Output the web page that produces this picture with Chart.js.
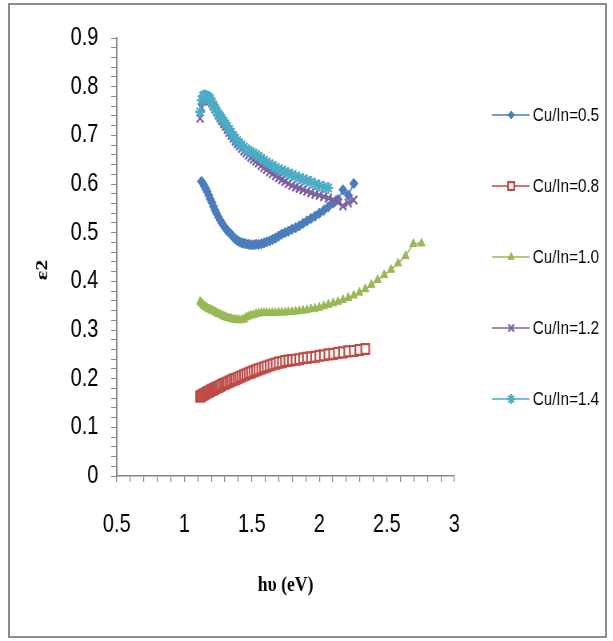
<!DOCTYPE html>
<html><head><meta charset="utf-8">
<script src="https://cdn.jsdelivr.net/npm/chart.js@4.4.0/dist/chart.umd.min.js"></script>
<style>
html,body{margin:0;padding:0;background:#fff;overflow:hidden;}
#outer{position:relative;width:613px;height:641px;overflow:hidden;}
#frame{position:absolute;left:8px;top:3px;width:599px;height:635px;border:2px solid #8c8c8c;box-sizing:border-box;}
#squeeze{position:absolute;left:0;top:0;width:766px;height:641px;transform:scaleX(0.8);transform-origin:0 0;}
canvas{display:block;}
</style></head><body>
<div id="outer"><div id="frame"></div><div id="squeeze"><canvas id="c" width="766" height="641"></canvas></div></div>
<script>
// photon energy hν (eV), shared x values
const energy = [1.117,1.127,1.138,1.148,1.159,1.170,1.181,1.192,1.204,1.216,
1.228,1.240,1.253,1.265,1.278,1.292,1.305,1.319,1.333,1.348,
1.363,1.378,1.393,1.409,1.425,1.442,1.459,1.476,1.494,1.512,
1.531,1.550,1.570,1.590,1.610,1.632,1.653,1.676,1.699,1.722,
1.746,1.771,1.797,1.824,1.851,1.879,1.908,1.938,1.968,2.000,
2.033,2.067,2.102,2.138,2.175,2.214,2.255,2.296,2.340,2.385,
2.431,2.480,2.531,2.583,2.638,2.696,2.756];

const seriesNames = ['Cu/In=0.5','Cu/In=0.8','Cu/In=1.0','Cu/In=1.2','Cu/In=1.4'];

const eps05 = [null,0.605,0.601,0.596,0.590,0.584,0.577,0.569,0.562,0.554,0.546,
0.539,0.532,0.526,0.520,0.514,0.509,0.504,0.500,0.496,0.491,
0.487,0.484,0.481,0.479,0.478,0.477,0.476,0.475,0.475,0.476,
0.476,0.477,0.479,0.481,0.483,0.486,0.489,0.493,0.497,0.500,
0.503,0.507,0.510,0.514,0.519,0.524,0.529,0.534,0.540,0.546,
0.553,0.561,0.568,0.588,0.577,0.601];

const eps08 = [0.163,0.165,0.167,0.168,0.170,0.172,0.173,0.175,0.177,0.178,
0.180,0.182,0.183,0.185,0.187,0.189,0.190,0.192,0.194,0.196,
0.198,0.199,0.201,0.203,0.205,0.207,0.209,0.211,0.213,0.215,
0.217,0.219,0.221,0.223,0.225,0.227,0.229,0.231,0.233,0.234,
0.236,0.237,0.238,0.239,0.240,0.242,0.243,0.244,0.245,0.247,
0.248,0.250,0.251,0.253,0.254,0.256,0.257,0.259,0.261];

const eps10 = [0.358,0.355,0.352,0.349,0.347,0.345,0.343,0.342,0.340,0.339,
0.337,0.335,0.333,0.332,0.330,0.328,0.327,0.325,0.324,0.323,
0.322,0.321,0.321,0.320,0.321,0.322,0.326,0.328,0.330,0.331,
0.333,0.334,0.335,0.335,0.335,0.335,0.335,0.335,0.336,0.336,
0.336,0.337,0.337,0.338,0.339,0.340,0.341,0.343,0.344,0.346,
0.349,0.352,0.355,0.358,0.362,0.366,0.371,0.377,0.384,0.393,
0.403,0.413,0.424,0.437,0.452,0.477,0.478];

const eps12 = [0.735,0.757,0.770,0.775,0.777,0.777,0.775,0.771,0.766,0.760,
0.754,0.748,0.742,0.736,0.730,0.724,0.718,0.712,0.706,0.700,
0.694,0.688,0.683,0.678,0.673,0.668,0.664,0.659,0.655,0.651,
0.647,0.643,0.638,0.634,0.630,0.625,0.621,0.617,0.613,0.609,
0.605,0.601,0.597,0.594,0.591,0.588,0.585,0.582,0.579,0.577,
0.574,0.571,0.567,0.563,0.555,0.561,0.567];

const eps14 = [0.748,0.772,0.781,0.782,0.781,0.780,0.778,0.774,0.768,0.762,
0.756,0.750,0.744,0.739,0.734,0.729,0.724,0.718,0.712,0.706,
0.699,0.694,0.689,0.684,0.680,0.676,0.672,0.669,0.666,0.663,
0.660,0.657,0.653,0.649,0.645,0.641,0.638,0.634,0.631,0.628,
0.625,0.622,0.619,0.616,0.613,0.610,0.607,0.604,0.600,0.597,
0.594,0.592];

const xTickLabels = ['0.5','1','1.5','2','2.5','3'];
const yTickLabels = ['0','0.1','0.2','0.3','0.4','0.5','0.6','0.7','0.8','0.9'];
const xTitle = 'hυ (eV)';
const yTitle = 'ε2';

function toPts(arr){
  const out = [];
  arr.forEach((v,i)=>{ if(v !== null && v !== undefined) out.push({x: energy[i], y: v}); });
  return out;
}

const sansFam = "'Liberation Sans',Arial,sans-serif";
const serifFam = "'Liberation Serif','Times New Roman',serif";
const tickFont = {family: sansFam, size: 25};
const axisGray = '#868686';

const styles = [
  {color:'#4A7EBB', fill:'#4A7EBB', ps:'rectRot', r:5.2, bw:1, lr:4, order:4},
  {color:'#BE4B48', fill:'#ffffff', ps:'rect', r:7, bw:2.2, lr:5.5, order:3},
  {color:'#98B954', fill:'#98B954', ps:'triangle', r:5.2, bw:1, lr:4.5, order:2},
  {color:'#7D60A0', fill:'#7D60A0', ps:'crossRot', r:6, bw:2.2, lr:5, order:1},
  {color:'#4BACC6', fill:'#4BACC6', ps:'star', r:6, bw:2.2, lr:5, order:0}
];
const allSeries = [eps05, eps08, eps10, eps12, eps14];

const datasets = allSeries.map((s,i)=>({
  label: seriesNames[i],
  data: toPts(s),
  borderColor: styles[i].color,
  backgroundColor: styles[i].color,
  borderWidth: 1.6,
  pointStyle: styles[i].ps,
  pointRadius: styles[i].r,
  pointBorderWidth: styles[i].bw,
  pointBorderColor: styles[i].color,
  pointBackgroundColor: styles[i].fill,
  tension: 0,
  order: styles[i].order,
  legendRadius: styles[i].lr
}));

const sideLegend = {
  id:'sideLegend',
  afterDraw(chart){
    const ctx = chart.ctx;
    chart.data.datasets.forEach((ds,i)=>{
      const y = 115 + i*71;
      ctx.save();
      ctx.strokeStyle = ds.borderColor; ctx.lineWidth = 1.6;
      ctx.beginPath(); ctx.moveTo(615,y); ctx.lineTo(662,y); ctx.stroke();
      ctx.fillStyle = ds.pointBackgroundColor; ctx.strokeStyle = ds.pointBorderColor; ctx.lineWidth = ds.pointBorderWidth;
      Chart.helpers.drawPoint(ctx, {pointStyle: ds.pointStyle, radius: ds.legendRadius, borderWidth: ds.pointBorderWidth, rotation:0}, 639, y);
      ctx.fillStyle = '#000';
      ctx.font = "19px " + sansFam;
      ctx.textBaseline = 'middle'; ctx.textAlign = 'left';
      ctx.fillText(ds.label, 666, y + 1);
      ctx.restore();
    });
    // y axis title
    ctx.save();
    ctx.translate(53, 270);
    ctx.rotate(-Math.PI/2);
    ctx.fillStyle = '#000';
    ctx.font = "bold 22px " + serifFam;
    ctx.textAlign = 'center'; ctx.textBaseline = 'middle';
    ctx.fillText(yTitle, 0, 0);
    ctx.restore();
  }
};

function near(v, step){ return Math.abs(v/step - Math.round(v/step)) < 1e-6; }

new Chart(document.getElementById('c'), {
  type: 'line',
  data: { datasets },
  plugins: [sideLegend],
  options: {
    responsive: false,
    animation: false,
    devicePixelRatio: 1,
    layout: { padding: { left: 0, right: 198, top: 38, bottom: 0 } },
    plugins: { legend: { display: false }, tooltip: { enabled: false } },
    scales: {
      x: {
        type: 'linear', min: 0.5, max: 3,
        border: { color: axisGray, width: 1.5 },
        grid: { drawOnChartArea: false, drawTicks: true, tickLength: 6, color: axisGray, lineWidth: 1.2 },
        ticks: {
          stepSize: 0.1, autoSkip: false, maxRotation: 0, minRotation: 0, padding: 28, color: '#000', font: tickFont,
          callback: (v) => near(v, 0.5) ? xTickLabels[Math.round((v - 0.5) / 0.5)] : ''
        },
        title: { display: true, text: xTitle, color: '#000',
          font: { family: serifFam, size: 22, weight: 'bold' },
          padding: { top: 0, bottom: 42 } },
        afterFit: (s) => { s.height = 165; }
      },
      y: {
        type: 'linear', min: 0, max: 0.9,
        border: { color: axisGray, width: 1.8 },
        grid: { drawOnChartArea: false, drawTicks: true, tickLength: 7, color: axisGray, lineWidth: 1 },
        ticks: {
          stepSize: 0.02, autoSkip: false, maxTicksLimit: 100, padding: 16, color: '#000', font: tickFont,
          callback: (v) => near(v, 0.1) ? yTickLabels[Math.round(v / 0.1)] : ''
        },
        afterFit: (s) => { s.width = 146; }
      }
    }
  }
});
</script>
</body></html>
